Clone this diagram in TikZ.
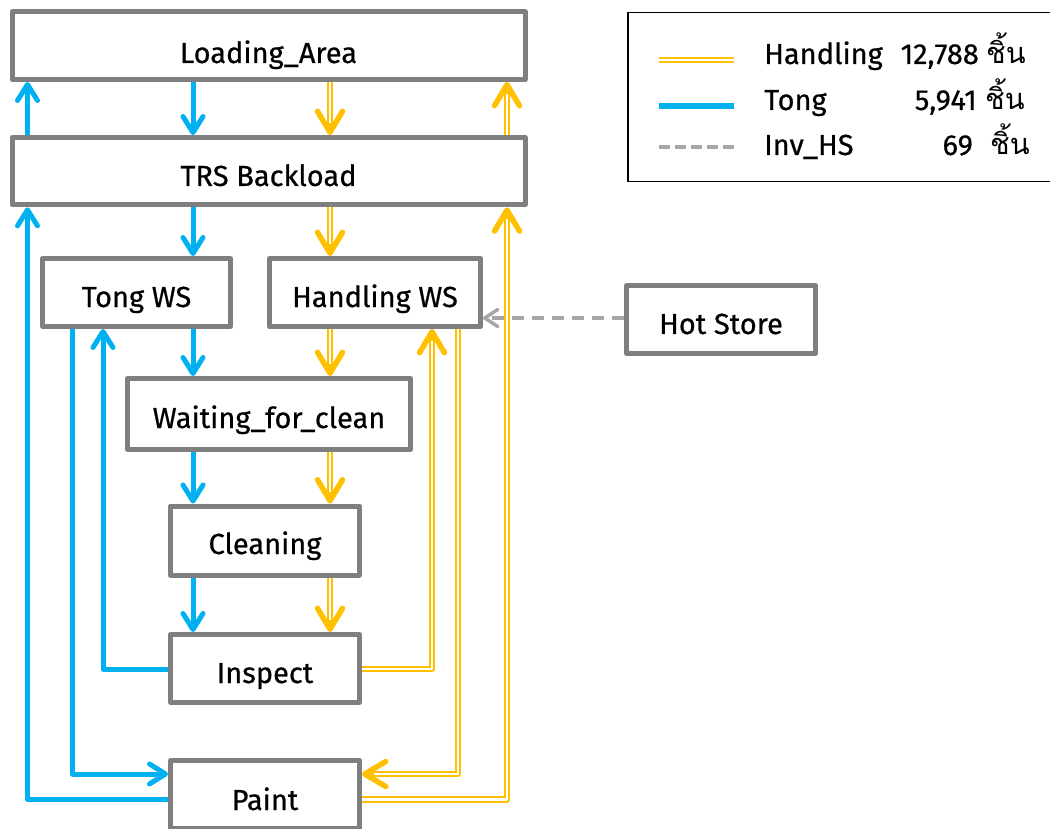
\documentclass[tikz,border=0pt]{standalone}
\usepackage{fontspec}
\setmainfont{Fira Sans}[FakeBold=0.6,UprightFeatures={FakeBold=0.6}]
\newfontfamily\thaifont[Script=Thai]{Loma}
\usetikzlibrary{arrows.meta,backgrounds}

\definecolor{tongblue}{HTML}{00B0F0}
\definecolor{handyellow}{HTML}{FFC000}
\definecolor{boxgray}{HTML}{7F7F7F}
\definecolor{invgray}{HTML}{A6A6A6}

\newcommand{\pieces}{{\thaifont\fontsize{29}{32}\selectfont ชิ้น}}

\begin{document}
\begin{tikzpicture}[x=1pt,y=-1pt,
  stagebox/.style={draw=boxgray, line width=5pt, line join=round, fill=white,
    inner sep=0pt, text depth=0pt, font=\fontsize{29}{34}\selectfont},
  lift/.style={text height=#1},
  legtext/.style={inner sep=0pt, font=\fontsize{29}{34}\selectfont},
  tongline/.style={draw=tongblue, line width=5pt, line join=round},
  tongflow/.style={tongline, -{Straight Barb[length=16pt,width=20pt,line width=5pt,round]}},
  handline/.style={draw=handyellow, line width=6.5pt, line join=round,
    postaction={draw=white, line width=2.3pt, -, line join=round, shorten >=#1}},
  handline/.default=0pt,
  handflow/.style={handline=12pt, -{Straight Barb[length=21pt,width=25pt,line width=5.5pt,round]}},
  hsline/.style={draw=invgray, line width=4pt, dash pattern=on 12pt off 8pt},
  hsflow/.style={hsline, -{Straight Barb[length=13pt,width=17pt,line width=3.5pt,round]}}
]
\useasboundingbox (0,0) rectangle (1050,829);

% process stages
\node[stagebox, minimum width=513pt, minimum height=67.5pt, lift=34.5pt] (load)  at (268.5,45.75) {Loading\_Area};
\node[stagebox, minimum width=513pt, minimum height=67.3pt, lift=29.5pt] (trs)   at (268.5,171.2) {TRS Backload};
\node[stagebox, minimum width=188pt, minimum height=68pt, lift=29pt]     (tong)  at (136.5,292.5) {Tong WS};
\node[stagebox, minimum width=211pt, minimum height=68pt, lift=29pt]     (hand)  at (375,292.5) {Handling WS};
\node[stagebox, minimum width=283pt, minimum height=71pt, lift=28pt]     (wait)  at (269,414) {Waiting\_for\_clean};
\node[stagebox, minimum width=189pt, minimum height=69pt, lift=27pt]     (clean) at (265,540.5) {Cleaning};
\node[stagebox, minimum width=189pt, minimum height=68pt, lift=29pt]     (insp)  at (265,668.5) {Inspect};
\node[stagebox, minimum width=189pt, minimum height=68pt, lift=31pt]     (paint) at (265,794.5) {Paint};
\node[stagebox, minimum width=189pt, minimum height=68pt, lift=29pt]     (hot)   at (721,319.5) {Hot Store};

% columns and rows used by the routed flows
\coordinate (cTa) at (27.5,0);
\coordinate (cTb) at (72.5,0);
\coordinate (cTc) at (103,0);
\coordinate (cTm) at (193,0);
\coordinate (cHm) at (330,0);
\coordinate (cHa) at (432,0);
\coordinate (cHb) at (458,0);
\coordinate (cHc) at (507,0);
\coordinate (rInsp) at (0,669);
\coordinate (rPaintIn) at (0,774);
\coordinate (rPaintOut) at (0,799.5);
\coordinate (rHot) at (0,318);

\begin{scope}[on background layer]
  % Tong flow
  \draw[tongflow] (load.south -| cTm) -- (trs.north -| cTm);
  \draw[tongflow] (trs.north -| cTa) -- (load.south -| cTa);
  \draw[tongflow] (trs.south -| cTm) -- (tong.north -| cTm);
  \draw[tongflow] (tong.south -| cTm) -- (wait.north -| cTm);
  \draw[tongflow] (wait.south -| cTm) -- (clean.north -| cTm);
  \draw[tongflow] (clean.south -| cTm) -- (insp.north -| cTm);
  \draw[tongflow] (insp.west |- rInsp) -| (tong.south -| cTc);
  \draw[tongflow] (tong.south -| cTb) |- (paint.west |- rPaintIn);
  \draw[tongflow] (paint.west |- rPaintOut) -| (trs.south -| cTa);
  % Hot Store inventory
  \draw[hsflow] (hot.west |- rHot) -- (hand.east |- rHot);
  % Handling flow
  \draw[handflow] (load.south -| cHm) -- (trs.north -| cHm);
  \draw[handflow] (trs.north -| cHc) -- (load.south -| cHc);
  \draw[handflow] (trs.south -| cHm) -- (hand.north -| cHm);
  \draw[handflow] (hand.south -| cHm) -- (wait.north -| cHm);
  \draw[handflow] (wait.south -| cHm) -- (clean.north -| cHm);
  \draw[handflow] (clean.south -| cHm) -- (insp.north -| cHm);
  \draw[handflow] (insp.east |- rInsp) -| (hand.south -| cHa);
  \draw[handflow] (hand.south -| cHb) |- (paint.east |- rPaintIn);
  \draw[handflow] (paint.east |- rPaintOut) -| (trs.south -| cHc);
\end{scope}

% legend
\draw[line width=1.8pt] (628,12.5) rectangle (1070,181.5);
\draw[handline] (659,60) -- (734,60);
\draw[tongline, line width=6pt] (659,106) -- (734,106);
\draw[hsline, dash pattern=on 11pt off 5pt] (659,147) -- (734,147);

\node[legtext, anchor=base west] (lgHname) at (764,64) {Handling};
\node[legtext, anchor=base east] (lgHnum)  at (979,64) {12,788};
\node[legtext, anchor=base west] (lgHunit) at (986,64) {\pieces};
\node[legtext, anchor=base west] (lgTname) at (764,110) {Tong};
\node[legtext, anchor=base east] (lgTnum)  at (977,110) {5,941};
\node[legtext, anchor=base west] (lgTunit) at (985,110) {\pieces};
\node[legtext, anchor=base west] (lgIname) at (764,155) {Inv\_HS};
\node[legtext, anchor=base east] (lgInum)  at (973,155) {69};
\node[legtext, anchor=base west] (lgIunit) at (990,155) {\pieces};
\end{tikzpicture}
\end{document}
